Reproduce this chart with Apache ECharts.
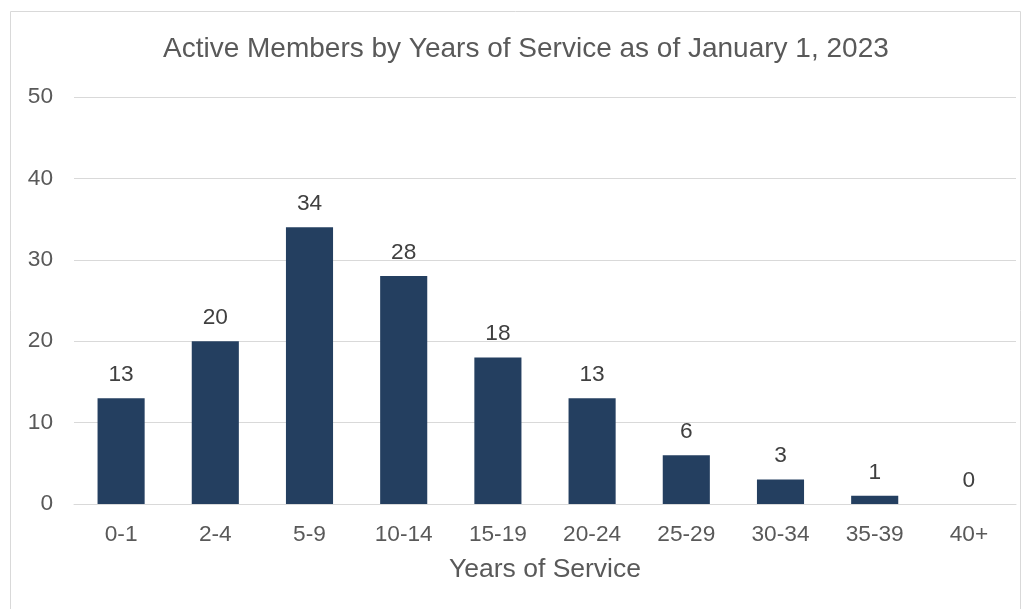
<!DOCTYPE html>
<html>
<head>
<meta charset="utf-8">
<script src="https://cdn.jsdelivr.net/npm/echarts@6/dist/echarts.min.js"></script>
<style>
  html, body { margin: 0; padding: 0; background: #fff; }
  #chart { width: 1032px; height: 609px; }
</style>
</head>
<body>
<div id="chart"></div>
<script>
const categories = ["0-1", "2-4", "5-9", "10-14", "15-19", "20-24", "25-29", "30-34", "35-39", "40+"];
const members = [13, 20, 34, 28, 18, 13, 6, 3, 1, 0];
const yTicks = { min: 0, max: 50, interval: 10 };

const chart = echarts.init(document.getElementById("chart"));
chart.setOption({
  animation: false,
  textStyle: { fontFamily: "Liberation Sans, Arial, sans-serif" },
  graphic: [
    {
      type: "rect",
      shape: { x: 10.5, y: 11.5, width: 1010, height: 620 },
      style: { fill: "none", stroke: "#d9d9d9", lineWidth: 1 },
      silent: true,
    },
  ],
  title: {
    text: "Active Members by Years of Service as of January 1, 2023",
    left: 158,
    top: 30,
    textStyle: {
      fontSize: 28,
      fontWeight: "normal",
      color: "#595959",
    },
  },
  grid: {
    left: 74,
    right: 16,
    top: 97,
    bottom: 105,
  },
  xAxis: {
    type: "category",
    data: categories,
    name: "Years of Service",
    nameLocation: "middle",
    nameGap: 52,
    nameTextStyle: { fontSize: 26.5, color: "#595959" },
    axisTick: { show: false },
    axisLine: { lineStyle: { color: "#d9d9d9", width: 1 } },
    axisLabel: { fontSize: 22.7, color: "#595959", margin: 19 },
  },
  yAxis: {
    type: "value",
    min: yTicks.min,
    max: yTicks.max,
    interval: yTicks.interval,
    axisLine: { show: false },
    axisTick: { show: false },
    splitLine: { lineStyle: { color: "#d9d9d9", width: 1 } },
    axisLabel: { fontSize: 22.7, color: "#595959", margin: 21 },
  },
  series: [
    {
      type: "bar",
      data: members,
      barWidth: "50%",
      itemStyle: { color: "#243F60" },
      label: {
        show: true,
        position: "top",
        distance: 12,
        fontSize: 22.7,
        color: "#404040",
      },
    },
  ],
});
</script>
</body>
</html>
